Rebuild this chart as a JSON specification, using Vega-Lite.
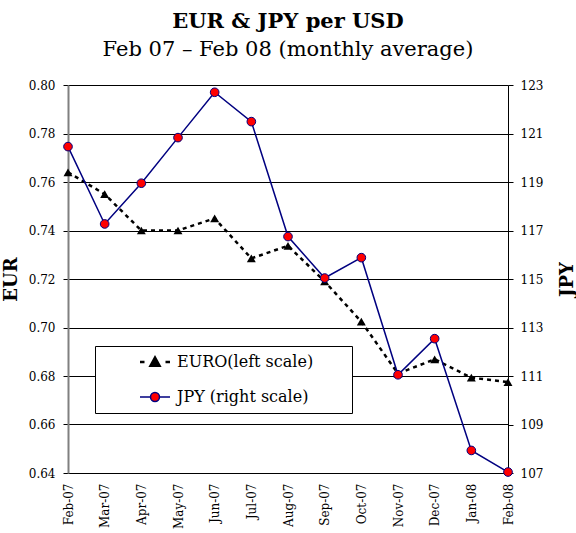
{
  "$schema": "https://vega.github.io/schema/vega-lite/v6.json",
  "width": 440,
  "height": 388,
  "autosize": {"type": "none"},
  "padding": {"left": 68, "top": 85, "right": 68, "bottom": 60},
  "background": "white",
  "config": {
    "font": "DejaVu Serif",
    "view": {"stroke": null}
  },
  "title": {
    "text": "EUR & JPY per USD",
    "subtitle": "Feb 07 – Feb 08 (monthly average)",
    "font": "DejaVu Serif",
    "subtitleFont": "DejaVu Serif",
    "fontSize": 21,
    "subtitleFontSize": 21,
    "fontWeight": "bold",
    "color": "black",
    "subtitleColor": "black",
    "anchor": "middle",
    "offset": 19,
    "subtitlePadding": 7
  },
  "data": {
    "values": [
      {"month": "Feb-07", "EUR": 0.764, "JPY": 120.46},
      {"month": "Mar-07", "EUR": 0.755, "JPY": 117.27},
      {"month": "Apr-07", "EUR": 0.740, "JPY": 118.95},
      {"month": "May-07", "EUR": 0.740, "JPY": 120.83},
      {"month": "Jun-07", "EUR": 0.745, "JPY": 122.70},
      {"month": "Jul-07", "EUR": 0.7285, "JPY": 121.49},
      {"month": "Aug-07", "EUR": 0.7337, "JPY": 116.75},
      {"month": "Sep-07", "EUR": 0.719, "JPY": 115.04},
      {"month": "Oct-07", "EUR": 0.7024, "JPY": 115.88},
      {"month": "Nov-07", "EUR": 0.681, "JPY": 111.05},
      {"month": "Dec-07", "EUR": 0.6869, "JPY": 112.54},
      {"month": "Jan-08", "EUR": 0.6793, "JPY": 107.93},
      {"month": "Feb-08", "EUR": 0.6775, "JPY": 107.04}
    ]
  },
  "encoding": {
    "x": {
      "field": "month",
      "type": "ordinal",
      "sort": null,
      "scale": {"type": "point", "padding": 0},
      "axis": {
        "title": null,
        "labelAngle": 270,
        "labelFont": "DejaVu Serif",
        "labelFontSize": 12,
        "labelPadding": 10,
        "labelColor": "black",
        "ticks": false,
        "tickSize": 0,
        "grid": false,
        "domainColor": "black",
        "domainWidth": 1
      }
    }
  },
  "layer": [
    {
      "encoding": {
        "y": {
          "field": "EUR",
          "type": "quantitative",
          "scale": {"domain": [0.64, 0.80], "zero": false, "nice": false},
          "axis": {
            "title": "EUR",
            "titleFont": "DejaVu Serif",
            "labelFont": "DejaVu Serif",
            "titleColor": "black",
            "labelColor": "black",
            "titleFontSize": 18,
            "titleFontWeight": "bold",
            "titlePadding": 8,
            "values": [0.64, 0.66, 0.68, 0.70, 0.72, 0.74, 0.76, 0.78, 0.80],
            "format": ".2f",
            "labelFontSize": 12,
            "labelPadding": 8,
            "tickSize": 5,
            "tickColor": "black",
            "grid": true,
            "gridColor": "black",
            "gridOpacity": 1,
            "gridWidth": 1,
            "domainColor": "#808080",
            "domainWidth": 2
          }
        }
      },
      "layer": [
        {
          "mark": {"type": "line", "strokeDash": [4, 4], "strokeWidth": 2.5},
          "encoding": {
            "stroke": {
              "datum": "EURO(left scale)",
              "type": "nominal",
              "scale": {"domain": ["EURO(left scale)", "JPY (right scale)"], "range": ["black", "#000080"]},
              "legend": {
                "title": null,
                "orient": "none",
                "legendX": 27,
                "legendY": 261,
                "strokeColor": "black",
                "fillColor": "white",
                "padding": 8,
                "symbolSize": 225,
                "symbolOffset": 44,
                "labelOffset": 14,
                "rowPadding": 18,
                "labelFontSize": 16,
                "labelFont": "DejaVu Serif",
                "labelColor": "black",
                "labelLimit": 400,
                "labelExpr": "datum.label + '\u00a0\u00a0\u00a0\u00a0\u00a0\u00a0\u200b'",
                "encode": {
                  "symbols": {
                    "update": {
                      "shape": {"signal": "datum.value == 'JPY (right scale)' ? 'M-2,0L-0.6,0M0.6,0L2,0M-0.6,0A0.6,0.6 0 1,0 0.6,0A0.6,0.6 0 1,0 -0.6,0Z' : 'M-2,0L-1.4,0M1.4,0L2,0M-0.6,0.5L0,-0.6L0.6,0.5Z'"},
                      "fill": {"signal": "datum.value == 'JPY (right scale)' ? 'red' : 'black'"},
                      "stroke": {"signal": "datum.value == 'JPY (right scale)' ? '#000080' : 'black'"},
                      "strokeWidth": {"signal": "datum.value == 'JPY (right scale)' ? 1.5 : 2.5"},
                      "strokeDash": {"value": []},
                      "opacity": {"value": 1},
                      "fillOpacity": {"value": 1}
                    }
                  }
                }
              }
            }
          }
        },
        {
          "mark": {"type": "point", "shape": "triangle-up", "filled": true, "fill": "black", "stroke": null, "size": 80, "opacity": 1}
        }
      ]
    },
    {
      "encoding": {
        "y": {
          "field": "JPY",
          "type": "quantitative",
          "scale": {"domain": [107, 123], "zero": false, "nice": false},
          "axis": {
            "orient": "right",
            "title": "JPY",
            "titleFont": "DejaVu Serif",
            "labelFont": "DejaVu Serif",
            "titleColor": "black",
            "labelColor": "black",
            "titleFontSize": 18,
            "titleFontWeight": "bold",
            "titleAngle": 270,
            "titleBaseline": "top",
            "titlePadding": 16,
            "values": [107, 109, 111, 113, 115, 117, 119, 121, 123],
            "labelFontSize": 12,
            "labelPadding": 7,
            "tickSize": 5,
            "tickColor": "black",
            "grid": false,
            "domainColor": "black",
            "domainWidth": 1
          }
        }
      },
      "layer": [
        {
          "mark": {"type": "line", "strokeWidth": 1.5},
          "encoding": {
            "stroke": {"datum": "JPY (right scale)", "type": "nominal"}
          }
        },
        {
          "mark": {"type": "point", "shape": "circle", "filled": true, "fill": "red", "stroke": "#000080", "strokeWidth": 1, "size": 75, "opacity": 1}
        }
      ]
    }
  ],
  "resolve": {"scale": {"y": "independent"}}
}
